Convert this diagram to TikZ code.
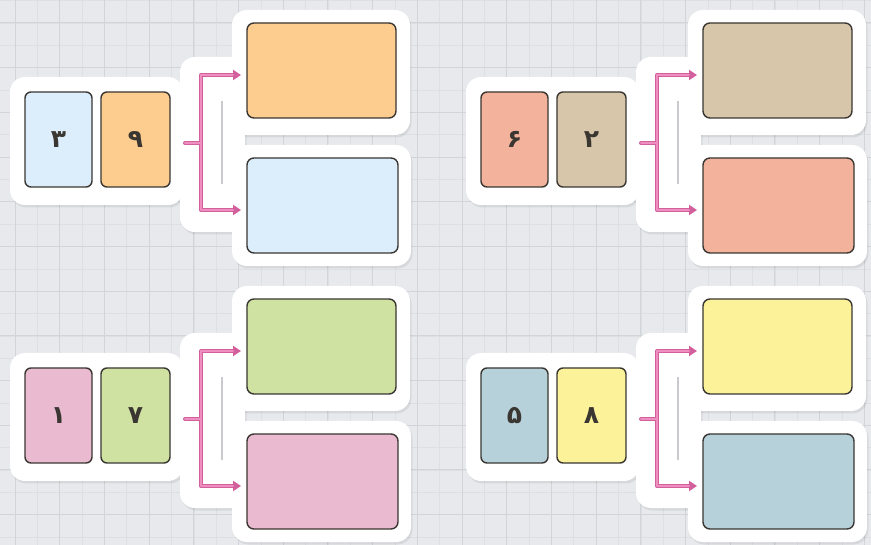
\documentclass[tikz,border=0pt]{standalone}
\usepackage{fontspec}
\newfontfamily\fa[Script=Arabic]{DejaVu Sans}
\usetikzlibrary{arrows.meta,calc}
\definecolor{bgc}{HTML}{E7E9EC}
\definecolor{gridmaj}{HTML}{D1D4D8}
\definecolor{gridmin}{HTML}{DDE0E3}
\definecolor{lblue}{HTML}{DCEEFB}
\definecolor{orng}{HTML}{FDCD90}
\definecolor{tan}{HTML}{D8C6AB}
\definecolor{salmon}{HTML}{F3B29C}
\definecolor{grn}{HTML}{CFE2A2}
\definecolor{pnk}{HTML}{E9BAD0}
\definecolor{yel}{HTML}{FBF29A}
\definecolor{bgray}{HTML}{B7D1DA}
\definecolor{edge}{HTML}{3A3632}
\definecolor{brkc}{HTML}{D2609D}
\definecolor{brkin}{HTML}{EF8FC0}
\definecolor{thin}{HTML}{C8CACD}
\tikzset{
  backing/.style={fill=white, rounded corners=15pt},
  shade/.style={fill=black, opacity=.07, rounded corners=15pt},
  card/.style={draw=edge, line width=1.4pt, rounded corners=6pt, minimum width=67pt, minimum height=95pt, inner sep=0pt, font=\fa\bfseries\fontsize{25}{25}\selectfont, text=edge},
  bigbox/.style={draw=edge, line width=1.4pt, rounded corners=7pt, minimum width=150pt, minimum height=95pt, inner sep=0pt},
  brk/.style={draw=brkc, line width=4pt, line cap=round, line join=round},
  brkinner/.style={draw=brkin, line width=1.8pt, line cap=round, line join=round},
  brkarrow/.style={brk, -{Triangle[length=8pt,width=10pt]}},
  shline/.style={draw=thin, line width=1.2pt}
}
\newcommand\grp[7]{%
  \begin{scope}[shift={(#2,#3)}]
    % shadows
    \fill[shade] (11.5,79.5) rectangle (184.5,207.5);
    \fill[shade] (181.5,59.5) rectangle (246.5,234.5);
    \fill[shade] (233.5,12.5) rectangle (411.5,137.5);
    \fill[shade] (233.5,147.5) rectangle (412.5,268.5);
    % backings
    \fill[backing] (10,77) rectangle (183,205);
    \fill[backing] (180,57) rectangle (245,232);
    \fill[backing] (232,10) rectangle (410,135);
    \fill[backing] (232,145) rectangle (411,266);
    % cards
    \node[card, fill=#4] (l#1) at (58.5,139.5) {#6};
    \node[card, fill=#5, minimum width=69pt] (r#1) at (135.5,139.5) {#7};
    \node[bigbox, fill=#5, minimum width=149pt] (t#1) at (321.5,70.5) {};
    \node[bigbox, fill=#4, minimum width=151pt] (u#1) at (322.5,205.5) {};
    % thin gray line
    \coordinate (g1#1) at (222,101);
    \coordinate (g2#1) at (222,184);
    \draw[shline] (g1#1) -- (g2#1);
    % bracket
    \coordinate (k#1) at (185,143);
    \coordinate (s#1) at (201,143);
    \coordinate (ta#1) at (241,75);
    \coordinate (ua#1) at (241,210);
    \draw[brk] (k#1) -- (s#1);
    \draw[brkarrow] (s#1) |- (ta#1);
    \draw[brkarrow] (s#1) |- (ua#1);
    \draw[brkinner, shorten >=8pt] (s#1) |- (ta#1);
    \draw[brkinner, shorten >=8pt] (s#1) |- (ua#1);
    \draw[brkinner] (k#1) -- (s#1);
  \end{scope}
}
\begin{document}
\begin{tikzpicture}[x=1pt,y=-1pt]
\useasboundingbox (0,0) rectangle (871,545);
\fill[bgc] (0,0) rectangle (871,545);
\foreach \i in {0,...,40} {
  \draw[gridmin, line width=0.6pt] ({15+\i*22.35-22.35},0) -- ({15+\i*22.35-22.35},545);
}
\foreach \i in {0,...,26} {
  \draw[gridmin, line width=0.6pt] (0,{23+\i*22.35-22.35}) -- (871,{23+\i*22.35-22.35});
}
\foreach \i in {0,...,20} {
  \draw[gridmaj, line width=1pt] ({15+\i*44.7},0) -- ({15+\i*44.7},545);
}
\foreach \i in {0,...,12} {
  \draw[gridmaj, line width=1pt] (0,{23+\i*44.7}) -- (871,{23+\i*44.7});
}
\grp{a}{0}{0}{lblue}{orng}{۳}{۹}
\grp{b}{456}{0}{salmon}{tan}{۶}{۲}
\grp{c}{0}{276}{pnk}{grn}{۱}{۷}
\grp{d}{456}{276}{bgray}{yel}{۵}{۸}
\end{tikzpicture}
\end{document}
